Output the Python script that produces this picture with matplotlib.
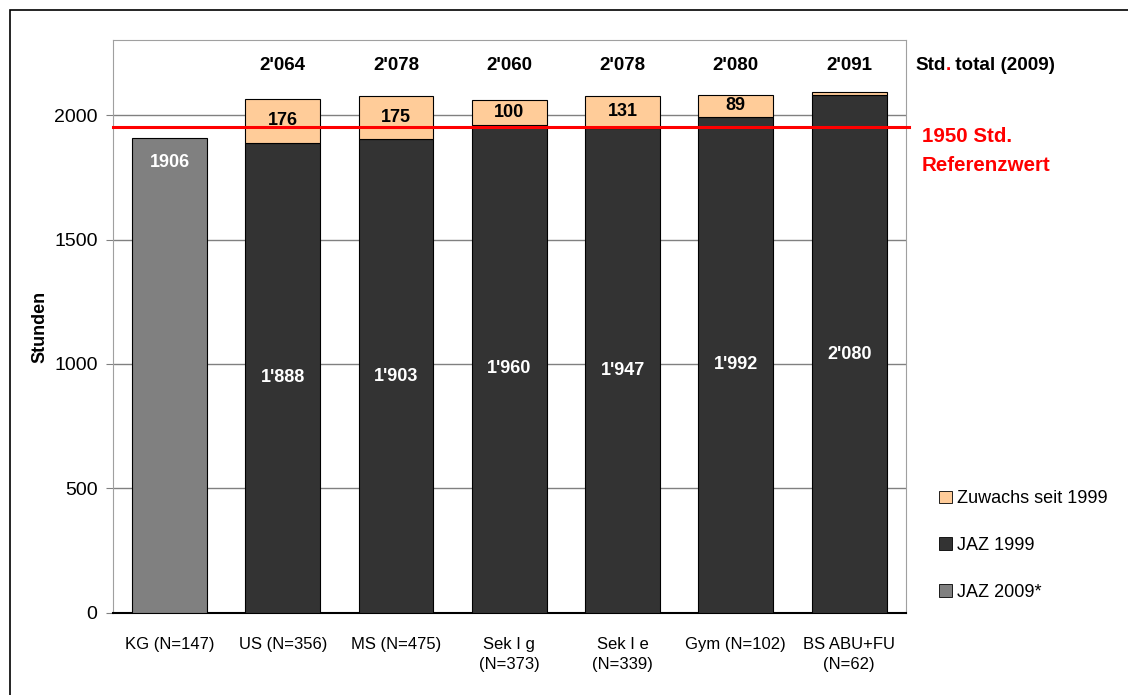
import matplotlib
matplotlib.use("Agg")
import matplotlib.pyplot as plt
from matplotlib.patches import Patch, Rectangle

plt.rcParams["font.family"] = ["Liberation Sans Narrow", "Liberation Sans", "DejaVu Sans"]

# ---------- data ----------
categories = ["KG (N=147)", "US (N=356)", "MS (N=475)", "Sek I g\n(N=373)",
              "Sek I e\n(N=339)", "Gym (N=102)", "BS ABU+FU\n(N=62)"]
jaz_2009 = [1906, None, None, None, None, None, None]
jaz_1999 = [0, 1888, 1903, 1960, 1947, 1992, 2080]
zuwachs = [0, 176, 175, 100, 131, 89, 11]
totals = [None, "2'064", "2'078", "2'060", "2'078", "2'080", "2'091"]
jaz_1999_labels = [None, "1'888", "1'903", "1'960", "1'947", "1'992", "2'080"]
referenz = 1950

PEACH = "#FFCC99"
DARK = "#333333"
GREY = "#808080"

fig = plt.figure(figsize=(11.28, 6.95), dpi=100)
ax = fig.add_axes([0.100, 0.118, 0.703, 0.824])

x = list(range(len(categories)))
w = 0.66

# KG bar (2009 only)
ax.bar(x[0], jaz_2009[0], width=w, color=GREY, edgecolor="black", linewidth=0.8, zorder=3)
ax.text(x[0], jaz_2009[0] - 95, str(jaz_2009[0]), ha="center", va="center",
        color="white", fontsize=13, fontweight="bold", zorder=5)

xs = x[1:]
base = jaz_1999[1:]
top = zuwachs[1:]
ax.bar(xs, base, width=w, color=DARK, edgecolor="black", linewidth=0.8, zorder=3)
ax.bar(xs, top, bottom=base, width=w, color=PEACH, edgecolor="black", linewidth=0.8, zorder=3)

for i in xs:
    ax.text(i, jaz_1999[i] / 2, jaz_1999_labels[i], ha="center", va="center",
            color="white", fontsize=13, fontweight="bold", zorder=5)
    if zuwachs[i] >= 50:
        ax.text(i, jaz_1999[i] + zuwachs[i] / 2, str(zuwachs[i]), ha="center", va="center",
                color="black", fontsize=13, fontweight="bold", zorder=5)
    ax.text(i, 2200, totals[i], ha="center", va="center",
            color="black", fontsize=13.5, fontweight="bold", zorder=5)

# reference line
ax.plot([-0.5, 6.53], [referenz, referenz], color="red", linewidth=2.2, zorder=4, clip_on=False)
ax.text(6.64, 1915, "1950 Std.", color="red", fontsize=14.8, fontweight="bold",
        ha="left", va="center")
ax.text(6.64, 1798, "Referenzwert", color="red", fontsize=14.8, fontweight="bold",
        ha="left", va="center")

# "Std. total (2009)" with the dot in red
t1 = ax.text(6.59, 2200, "Std", color="black", fontsize=13.6, fontweight="bold",
             ha="left", va="center")
t2 = ax.annotate(".", xy=(1, 0), xycoords=t1, xytext=(-0.5, 0), textcoords="offset points",
                 va="bottom", ha="left", color="red", fontsize=13.6, fontweight="bold")
ax.annotate(" total (2009)", xy=(1, 0), xycoords=t2, xytext=(-0.5, 0),
            textcoords="offset points", va="bottom", ha="left",
            color="black", fontsize=13.6, fontweight="bold")

# axes styling
ax.set_xlim(-0.5, 6.5)
ax.set_ylim(0, 2300)
ax.set_yticks([0, 500, 1000, 1500, 2000])
ax.yaxis.grid(True, color=GREY, linewidth=1, zorder=0)
ax.set_axisbelow(True)
ax.set_xticks(x)
ax.set_xticklabels(categories, fontsize=12, linespacing=1.45)
ax.tick_params(axis="x", length=0, pad=17)
ax.tick_params(axis="y", labelsize=14, length=5, color=GREY, pad=6)
for side in ["top", "right", "left"]:
    ax.spines[side].set_color("#A0A0A0")
ax.spines["bottom"].set_color("black")
ax.spines["bottom"].set_linewidth(1.5)
ax.set_ylabel("Stunden", fontsize=13, fontweight="bold", labelpad=4)

handles = [Patch(facecolor=PEACH, edgecolor="black", linewidth=0.6),
           Patch(facecolor=DARK, edgecolor="black", linewidth=0.6),
           Patch(facecolor=GREY, edgecolor="black", linewidth=0.6)]
fig.legend(handles, ["Zuwachs seit 1999", "JAZ 1999", "JAZ 2009*"],
           loc="upper left", bbox_to_anchor=(0.818, 0.318), frameon=False,
           fontsize=13, handlelength=0.7, handleheight=0.7, handletextpad=0.3,
           labelspacing=1.65)

# outer frame
fig.patches.append(Rectangle((0.009, -0.02), 1.2, 1.006, transform=fig.transFigure,
                             fill=False, edgecolor="black", linewidth=1.2))

fig.savefig("out.png", dpi=100)
